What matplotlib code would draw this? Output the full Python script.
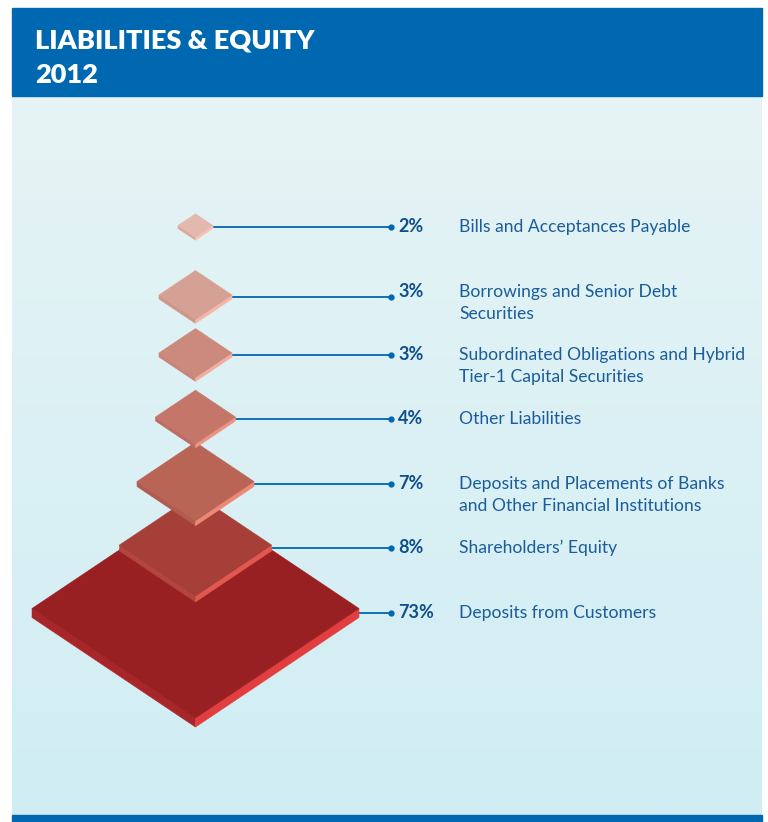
import matplotlib.pyplot as plt
import numpy as np
from matplotlib.patches import Polygon, Rectangle
from matplotlib.colors import to_rgb

# Liabilities & equity breakdown, 2012
shares = [2, 3, 3, 4, 7, 8, 73]
items = [
    "Bills and Acceptances Payable",
    "Borrowings and Senior Debt\nSecurities",
    "Subordinated Obligations and Hybrid\nTier-1 Capital Securities",
    "Other Liabilities",
    "Deposits and Placements of Banks\nand Other Financial Institutions",
    "Shareholders\u2019 Equity",
    "Deposits from Customers",
]
title_lines = ["LIABILITIES & EQUITY", "2012"]

# tile look: top face, left side, right side
top_col = ["#e4b9ad", "#d6a195", "#cc8a7c", "#c47769", "#b96556", "#a53f38", "#981f22"]
left_col = ["#dba99c", "#cf968a", "#c9837a", "#bc6d62", "#b15c50", "#b2463e", "#a8252a"]
right_col = ["#f6c4b5", "#f5b8a8", "#f1ae9f", "#ef9282", "#ee8876", "#e2584f", "#e23e40"]

# layout in pixels
row_y = [227, 297, 355, 419, 484, 548, 613]
text_dy = [5, 0, 5, 5, 5, 5, 5]
half_w = [17.5, 36.5, 36.5, 40, 58.5, 76, 163.5]
depth = [3, 4, 4, 4, 5, 6, 9]
cx = 195.5
dot_x = 391
pct_x = 398
text_x = 459
line_gap = 21.5
blue = "#0067b1"
text_blue = "#1a5c9c"
fonts = ["Lato", "DejaVu Sans"]

fig = plt.figure(figsize=(7.68, 8.22), dpi=100)
ax = fig.add_axes([0, 0, 1, 1])
ax.set_xlim(0, 768)
ax.set_ylim(822, 0)
ax.axis("off")

# panel with soft vertical gradient
c0 = np.array(to_rgb("#e6f4f5"))
c1 = np.array(to_rgb("#d0edf4"))
t = np.linspace(0, 1, 256)[:, None, None]
grad = c0 + (c1 - c0) * t
grad = np.repeat(grad, 2, axis=1)
ax.imshow(grad, extent=(12, 762, 815, 96), aspect="auto", zorder=0)

ax.add_patch(Rectangle((12, 8), 750, 88, color=blue, zorder=1))
ax.add_patch(Rectangle((12, 815), 750, 7, color=blue, zorder=1))
for k, line in enumerate(title_lines):
    ax.text(35, 48 + 35 * k, line, color="white", fontsize=19.5,
            fontweight="heavy", family=fonts, va="baseline", zorder=2)


def tile(cy, w, d, ctop, cleft, cright, z):
    h = 0.67 * w
    top = [(cx - w, cy), (cx, cy - h), (cx + w, cy), (cx, cy + h)]
    left = [(cx - w, cy), (cx, cy + h), (cx, cy + h + d), (cx - w, cy + d)]
    right = [(cx, cy + h), (cx + w, cy), (cx + w, cy + d), (cx, cy + h + d)]
    for pts, col in ((left, cleft), (right, cright), (top, ctop)):
        ax.add_patch(Polygon(pts, closed=True, facecolor=col, edgecolor=col,
                             linewidth=0.4, zorder=z))


n = len(shares)
for i in range(n):
    y = row_y[i]
    w = half_w[i]
    d = depth[i]
    # larger tiles sit underneath the smaller ones above them
    tile(y - d / 2, w, d, top_col[i], left_col[i], right_col[i], 10 + (n - i))
    ax.plot([cx + w, dot_x], [y, y], color=blue, lw=1.3, zorder=5)
    ax.plot(dot_x, y, "o", ms=3.5, color=blue, zorder=6)
    base = y + text_dy[i]
    ax.text(pct_x, base, f"{shares[i]}%", color="#0f4f8c", fontsize=13,
            fontweight="bold", family=fonts, va="baseline")
    for k, line in enumerate(items[i].split("\n")):
        ax.text(text_x, base + k * line_gap, line, color=text_blue,
                fontsize=12.6, family=fonts, va="baseline")

fig.savefig("out.png", dpi=100)
